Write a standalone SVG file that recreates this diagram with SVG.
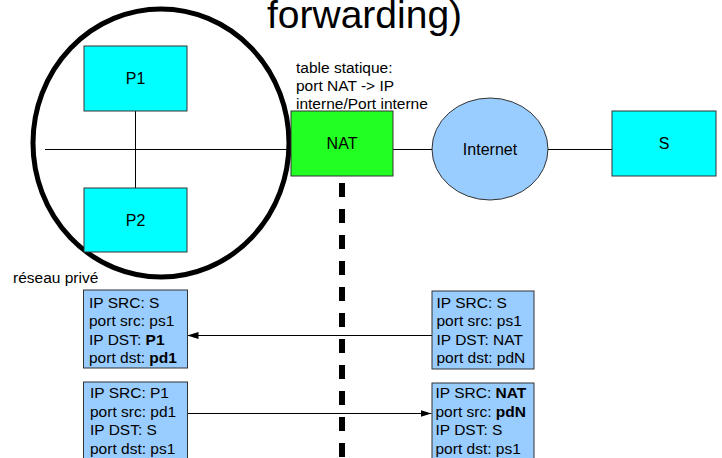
<svg xmlns="http://www.w3.org/2000/svg" width="722" height="458" viewBox="0 0 722 458">
  <style>
    text { font-family: "Liberation Sans", Arial, sans-serif; fill: #000; }
    .lbl { font-size: 16px; text-anchor: middle; }
    .note { font-size: 15.5px; }
    .pkt text { font-size: 15.5px; }
    .b { font-weight: bold; }
    .host { fill: #00ffff; stroke: #333; stroke-width: 1; }
    .pktbox { fill: #99ccff; stroke: #333; stroke-width: 1; }
    .wire { stroke: #000; stroke-width: 1; fill: none; }
  </style>
  <defs>
    <marker id="arrow" viewBox="0 0 11 7" refX="11" refY="3.5" markerWidth="11" markerHeight="7" markerUnits="userSpaceOnUse" orient="auto">
      <path d="M0,0 L11,3.5 L0,7 Z" fill="#000"/>
    </marker>
  </defs>

  <!-- title fragment -->
  <text x="267" y="28" style="font-size:39px">forwarding)</text>

  <!-- private network boundary -->
  <g id="private-net">
    <ellipse cx="161" cy="143" rx="128" ry="134" fill="none" stroke="#000" stroke-width="5"/>
    <text class="note" x="13" y="283">réseau privé</text>
  </g>

  <!-- links -->
  <g id="connectors">
    <line class="wire" x1="45" y1="149.5" x2="291" y2="149.5"/>
    <line class="wire" x1="135.5" y1="111" x2="135.5" y2="188"/>
    <line class="wire" x1="393" y1="149.5" x2="432" y2="149.5"/>
    <line class="wire" x1="548" y1="149.5" x2="612" y2="149.5"/>
    <line x1="342" y1="183" x2="342" y2="458" stroke="#000" stroke-width="6" stroke-dasharray="14 12"/>
    <line class="wire" x1="432" y1="335.5" x2="187.5" y2="335.5" marker-end="url(#arrow)"/>
    <line class="wire" x1="187.5" y1="413.5" x2="431.5" y2="413.5" marker-end="url(#arrow)"/>
  </g>

  <g id="P1">
    <rect class="host" x="84" y="46" width="103" height="65"/>
    <text class="lbl" x="135.5" y="84">P1</text>
  </g>
  <g id="P2">
    <rect class="host" x="84" y="188" width="103" height="64"/>
    <text class="lbl" x="135.5" y="226">P2</text>
  </g>

  <g id="NAT">
    <rect x="291" y="111" width="102" height="65" fill="#22ff22" stroke="#333" stroke-width="1"/>
    <text class="lbl" x="342" y="149">NAT</text>
    <text class="note" x="296" y="73">table statique:</text>
    <text class="note" x="296" y="91">port NAT -&gt; IP</text>
    <text class="note" x="296" y="109">interne/Port interne</text>
  </g>

  <g id="Internet">
    <ellipse cx="490" cy="149" rx="58" ry="51" fill="#99ccff" stroke="#333" stroke-width="1"/>
    <text class="lbl" x="490" y="155">Internet</text>
  </g>

  <g id="S">
    <rect class="host" x="612" y="111" width="104" height="65"/>
    <text class="lbl" x="664" y="149">S</text>
  </g>

  <!-- packet headers -->
  <g id="pkt-in-private" class="pkt">
    <rect class="pktbox" x="83.5" y="290" width="104" height="78"/>
    <text x="89" y="307.5">IP SRC: S</text>
    <text x="89" y="326">port src: ps1</text>
    <text x="89" y="344.5">IP DST: <tspan class="b">P1</tspan></text>
    <text x="89" y="363">port dst: <tspan class="b">pd1</tspan></text>
  </g>
  <g id="pkt-out-private" class="pkt">
    <rect class="pktbox" x="83.5" y="382" width="104" height="90"/>
    <text x="90" y="398">IP SRC: P1</text>
    <text x="90" y="416.5">port src: pd1</text>
    <text x="90" y="435">IP DST: S</text>
    <text x="90" y="453.5">port dst: ps1</text>
  </g>
  <g id="pkt-in-public" class="pkt">
    <rect class="pktbox" x="432" y="291" width="102" height="78"/>
    <text x="436.5" y="307.5">IP SRC: S</text>
    <text x="436.5" y="326">port src: ps1</text>
    <text x="436.5" y="344.5">IP DST: NAT</text>
    <text x="436.5" y="363">port dst: pdN</text>
  </g>
  <g id="pkt-out-public" class="pkt">
    <rect class="pktbox" x="432" y="383" width="102" height="90"/>
    <text x="435.5" y="398">IP SRC: <tspan class="b">NAT</tspan></text>
    <text x="435.5" y="416.5">port src: <tspan class="b">pdN</tspan></text>
    <text x="435.5" y="435">IP DST: S</text>
    <text x="435.5" y="453.5">port dst: ps1</text>
  </g>
</svg>
